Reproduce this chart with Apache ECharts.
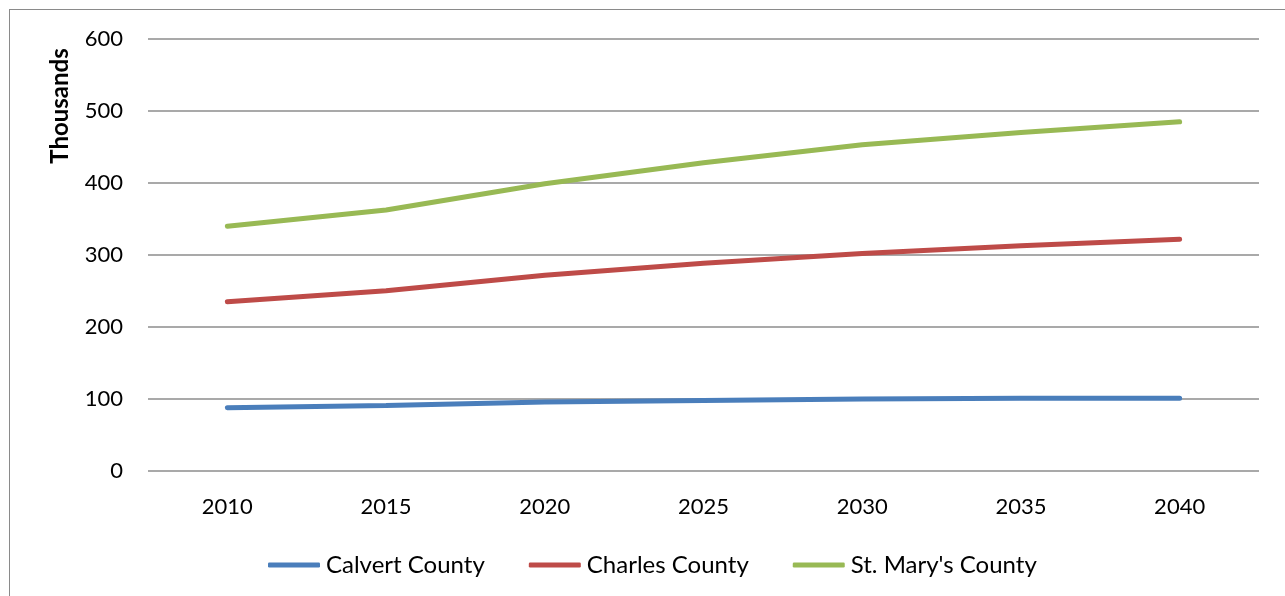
<!DOCTYPE html>
<html>
<head>
<meta charset="utf-8">
<title>County population projections</title>
<script src="https://cdn.jsdelivr.net/npm/echarts@6/dist/echarts.min.js"></script>
<style>
    html, body { margin: 0; padding: 0; background: #fff; overflow: hidden; }
    #frame { position: absolute; left: 9px; top: 9px; width: 1300px; height: 620px; border: 1px solid #8a8a8a; }
    #main { position: absolute; left: 0; top: 0; width: 1285px; height: 596px; }
</style>
</head>
<body>
<div id="frame"></div>
<div id="main"></div>
<script>
    // years on the x axis
    var years = ['2010', '2015', '2020', '2025', '2030', '2035', '2040'];
    // population in thousands (stacked in the chart)
    var calvert = [88, 91, 96, 98, 100, 101, 101];
    var charles = [147, 159.5, 176, 190.5, 202, 212, 221];
    var stMarys = [105, 112, 127, 139.5, 151, 157, 163];
    var seriesNames = ['Calvert County', 'Charles County', "St. Mary's County"];
    var colors = ['#4a7ebb', '#be4b48', '#98b954'];

    var font = 'Lato';
    var chartDom = document.getElementById('main');
    var myChart = echarts.init(chartDom);

    function lineSeries(name, data, color) {
        return {
            name: name,
            type: 'line',
            stack: 'total',
            data: data,
            symbol: 'none',
            smooth: false,
            lineStyle: { width: 5, color: color, cap: 'round' },
            itemStyle: { color: color },
            emphasis: { disabled: true }
        };
    }

    var option = {
        animation: false,
        color: colors,
        grid: { left: 148, right: 26, top: 39, bottom: 125, containLabel: false },
        legend: {
            top: 553,
            left: 268,
            padding: 0,
            icon: 'roundRect',
            itemWidth: 52,
            itemHeight: 5,
            itemGap: 44,
            textStyle: { fontFamily: font, fontSize: 24, color: '#000', padding: [0, 0, 0, 1] },
            data: seriesNames
        },
        xAxis: {
            type: 'category',
            data: years,
            boundaryGap: true,
            axisLine: { show: false },
            axisTick: { show: false },
            axisLabel: { fontFamily: font, fontSize: 22, color: '#000', margin: 25 }
        },
        yAxis: {
            type: 'value',
            min: 0,
            max: 600,
            interval: 100,
            axisLine: { show: false },
            axisTick: { show: false },
            axisLabel: { fontFamily: font, fontSize: 22, color: '#000', margin: 25 },
            splitLine: { lineStyle: { color: '#8c8c8c', width: 1.5 } }
        },
        graphic: [{
            type: 'text',
            x: 48,
            y: 106,
            rotation: Math.PI / 2,
            style: {
                text: 'Thousands',
                fontFamily: font,
                fontWeight: 'bold',
                fontSize: 24,
                fill: '#000',
                align: 'center',
                verticalAlign: 'top'
            }
        }],
        series: [
            lineSeries(seriesNames[0], calvert, colors[0]),
            lineSeries(seriesNames[1], charles, colors[1]),
            lineSeries(seriesNames[2], stMarys, colors[2])
        ]
    };
    option && myChart.setOption(option);
</script>
</body>
</html>
